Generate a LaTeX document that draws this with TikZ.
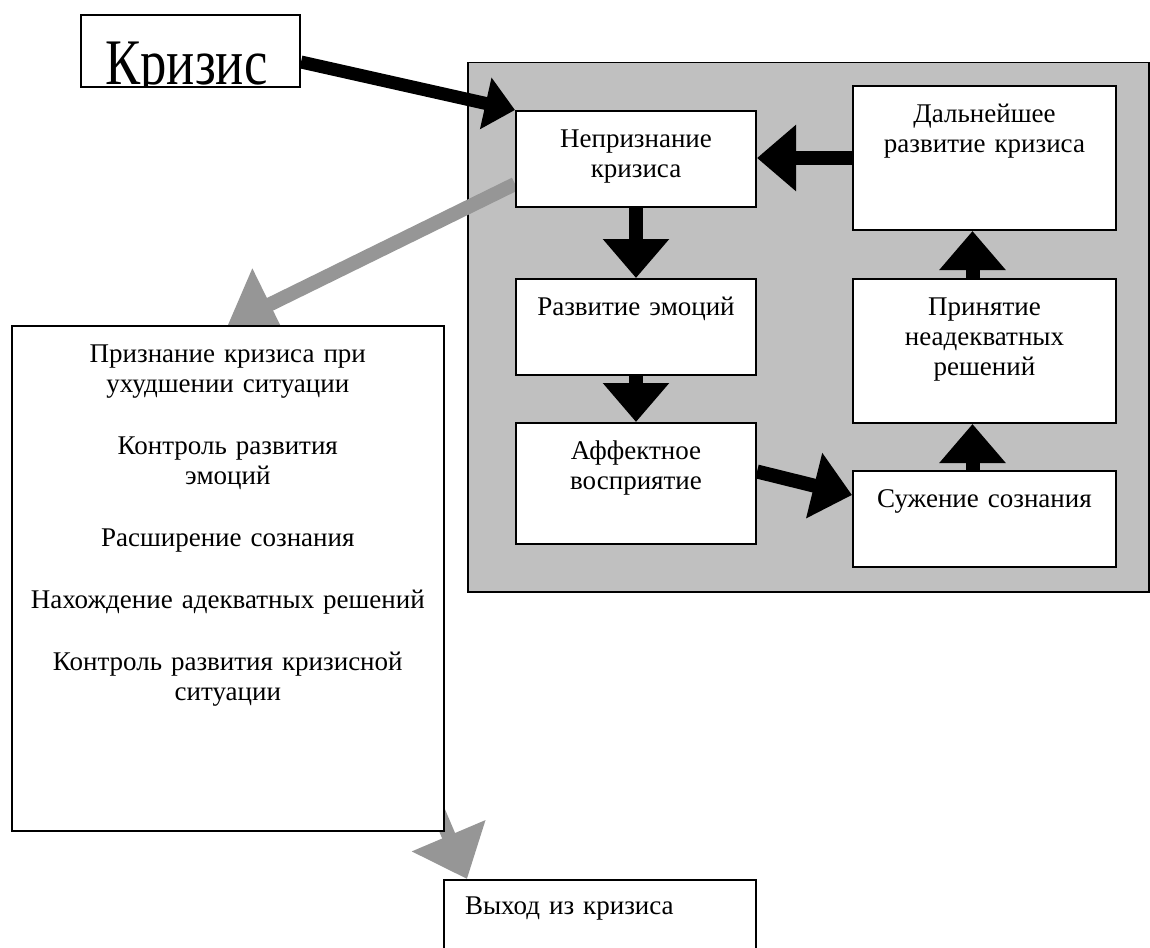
\documentclass[tikz,border=0pt]{standalone}
\usepackage{fontspec}
\setmainfont{Liberation Serif}
\usepackage{graphicx}
\usetikzlibrary{arrows.meta, backgrounds}

\definecolor{siva}{RGB}{192,192,192}
\definecolor{sivastr}{RGB}{150,150,150}

\begin{document}
\begin{tikzpicture}[
        x=1pt, y=-1pt,
        every node/.style={inner sep=0pt, font=\fontsize{27}{30}\selectfont},
        blok/.style={draw, fill=white, line width=2pt, anchor=north west,
            align=center, text height=36pt},
        okvir/.style={draw, fill=siva, line width=1.5pt, anchor=north west},
        crna/.style={line width=14pt, -{Triangle[width=64pt, length=39pt]}},
        siva strelica/.style={sivastr, line width=14pt, -{Triangle[width=77pt, length=47pt]}}
    ]
        \useasboundingbox (0,0) rectangle (1150,947);

        % Kрупная надпись вверху (нижний край букв срезан рамкой)
        \node[draw, line width=2pt, anchor=north west, minimum width=219pt, minimum height=72pt] (kriz) at (80,14) {};
        \begin{scope}
            \clip (kriz.south west) rectangle (kriz.north east);
            \node[anchor=base, font=\fontsize{65}{65}\selectfont] (krizt) at ([xshift=-4pt, yshift=3pt]kriz.south) {\scalebox{0.81}[1]{Кризис}};
        \end{scope}

        % --- ЦИКЛ ВНУТРИ СЕРОЙ РАМКИ ---
        \node[blok, text width=240pt, text depth=60pt] (nepr) at (515,110) {Непризнание\\кризиса};
        \node[blok, text width=263pt, text depth=108pt] (dal) at (852,85) {Дальнейшее\\развитие кризиса};
        \node[blok, text width=240pt, text depth=60pt] (emoc) at (515,278) {Развитие эмоций};
        \node[blok, text width=263pt, text depth=108pt] (prin) at (852,278) {Принятие\\неадекватных\\решений};
        \node[blok, text width=240pt, text depth=85pt] (afek) at (515,422) {Аффектное\\восприятие};
        \node[blok, text width=263pt, text depth=60pt] (suz) at (852,470) {Сужение сознания};

        % --- ВЫХОД ---
        \node[blok, line width=1.6pt, text width=432pt, text height=37pt, text depth=468pt] (prizn) at (11,325)
            {Признание кризиса при\\ухудшении ситуации\\[32pt]Контроль развития\\эмоций\\[32pt]Расширение сознания\\[32pt]Нахождение адекватных решений\\[32pt]Контроль развития кризисной\\ситуации};
        \node[blok, align=left, text width=270pt, inner xsep=21pt, text height=34pt, text depth=60pt] (vyh) at (443,879) {Выход из кризиса};

        % Серая рамка и серые стрелки лежат под блоками
        \begin{scope}[on background layer]
            \node[okvir, minimum width=681pt, minimum height=529pt] (okvir) at (467,62) {};
            \draw[siva strelica] ([yshift=-25pt]nepr.west) -- (prizn.north);
            \draw[siva strelica] ([xshift=-16pt, yshift=43pt]prizn.south east) -- ([xshift=24pt]vyh.north west);
        \end{scope}

        % Чёрные стрелки
        \draw[crna, line width=13pt, -{Triangle[width=51pt, length=30pt]}] ([yshift=-11pt]kriz.east) -- (nepr.north west);
        \draw[crna] (nepr.south) -- (emoc.north);
        \draw[crna] (emoc.south) -- (afek.north);
        \draw[crna, -{Triangle[width=65pt, length=39pt]}] ([yshift=12pt]afek.east) -- ([yshift=24pt]suz.west);
        \draw[crna] ([xshift=-12pt]suz.north) -- ([xshift=-12pt]prin.south);
        \draw[crna] ([xshift=-12pt]prin.north) -- ([xshift=-12pt]dal.south);
        \draw[crna] (dal.west) -- (dal.west -| nepr.east);
    \end{tikzpicture}
\end{document}
